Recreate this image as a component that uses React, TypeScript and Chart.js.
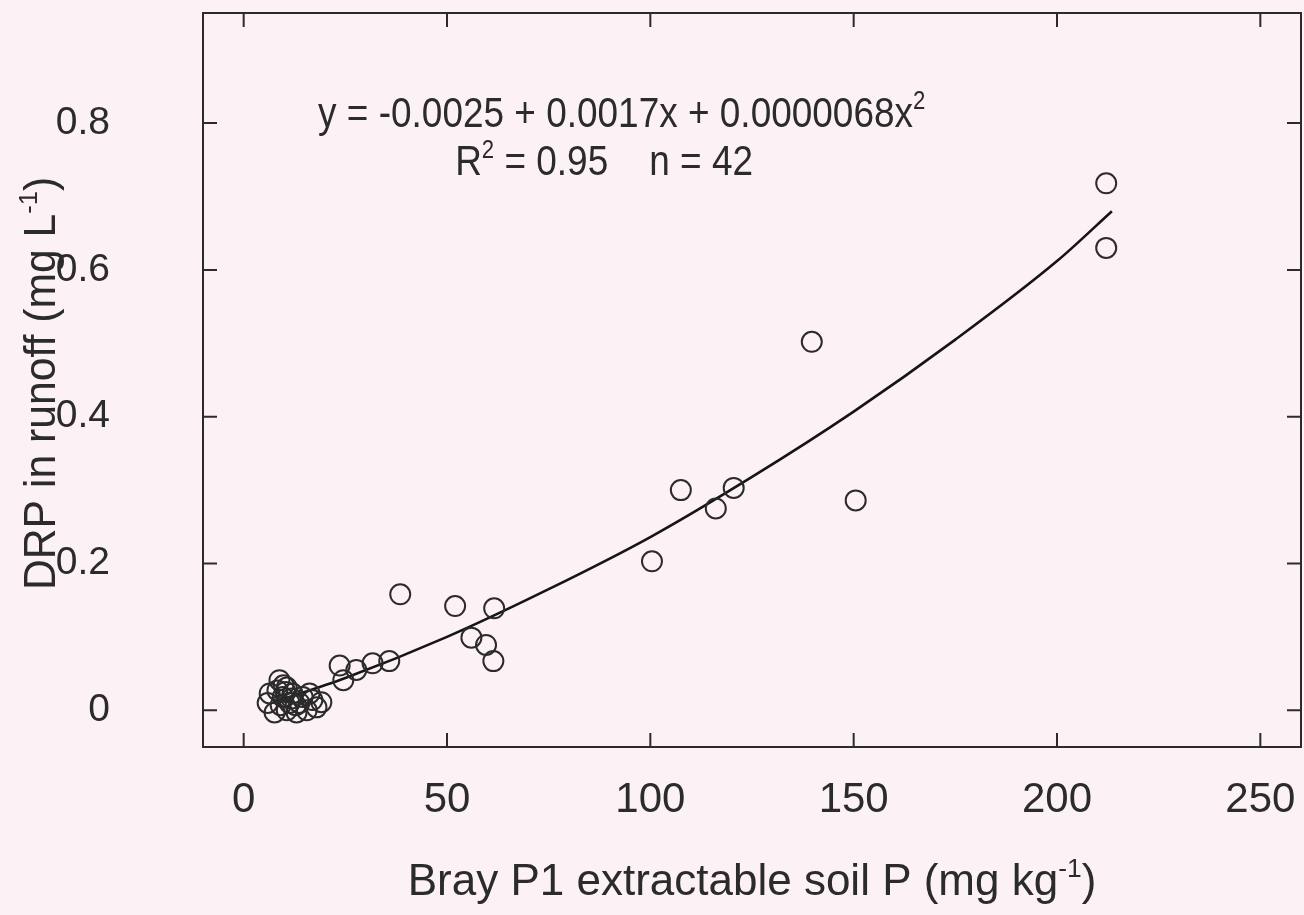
import React, { useEffect, useRef } from "react";
import { Chart, registerables } from "chart.js";

Chart.register(...registerables);

// Observed points: Bray P1 soil P (mg/kg) vs DRP in runoff (mg/L)
const soilP = [
  212.1, 212.1, 139.7, 150.5, 107.5, 120.5, 116.1, 100.4, 38.5, 52.0,
  61.6, 56.0, 59.6, 61.4, 35.8, 31.7, 27.7, 23.6, 24.5,
  8.8, 6.4, 5.9, 7.6, 10.6, 13.0, 15.5, 17.9, 19.1, 16.9,
  14.5, 12.0, 10.6, 9.6, 11.3, 13.7, 16.2, 9.8, 8.3, 11.8,
  12.8, 9.1, 10.3,
];
const drpRunoff = [
  0.718, 0.630, 0.502, 0.286, 0.300, 0.303, 0.275, 0.203, 0.158, 0.142,
  0.139, 0.099, 0.089, 0.067, 0.067, 0.064, 0.055, 0.061, 0.041,
  0.041, 0.023, 0.010, -0.003, 0.000, -0.003, 0.000, 0.004, 0.011, 0.014,
  0.018, 0.023, 0.031, 0.018, 0.010, 0.010, 0.023, 0.034, 0.027, 0.016,
  0.007, 0.007, 0.025,
];

// Fitted curve
const fitSoilP = [8, 25, 50, 75, 100, 125, 150, 175, 200, 213.5];
const fitDrp = [0.012, 0.044, 0.100, 0.165, 0.236, 0.318, 0.407, 0.505, 0.612, 0.680];

const xTickValues = [0, 50, 100, 150, 200, 250];
const yTickValues = [0, 0.2, 0.4, 0.6, 0.8];

const xTitleParts = [
  { t: "Bray P1 extractable soil P (mg kg" },
  { t: "-1", sup: true },
  { t: ")" },
];
const yTitleParts = [
  { t: "DRP in runoff (mg L" },
  { t: "-1", sup: true },
  { t: ")" },
];
const eqLine1 = [
  { t: "y = -0.0025 + 0.0017x + 0.0000068x" },
  { t: "2", sup: true },
];
const eqLine2 = [
  { t: "R" },
  { t: "2", sup: true },
  { t: " = 0.95    n = 42" },
];

const FONT = "'Liberation Sans', Arial, Helvetica, sans-serif";
const INK = "#2b2b2b";
const BG = "#fcf2f5";

type Part = { t: string; sup?: boolean };

function partsWidth(ctx: CanvasRenderingContext2D, parts: Part[], size: number) {
  let w = 0;
  for (const p of parts) {
    ctx.font = `${p.sup ? size * 0.6 : size}px ${FONT}`;
    w += ctx.measureText(p.t).width;
  }
  return w;
}

function drawParts(
  ctx: CanvasRenderingContext2D,
  parts: Part[],
  x: number,
  y: number,
  size: number,
  sx = 1
) {
  ctx.save();
  ctx.translate(x, y);
  ctx.scale(sx, 1);
  let cx = 0;
  ctx.textBaseline = "alphabetic";
  ctx.textAlign = "left";
  for (const p of parts) {
    const s = p.sup ? size * 0.6 : size;
    ctx.font = `${s}px ${FONT}`;
    ctx.fillText(p.t, cx, p.sup ? -size * 0.42 : 0);
    cx += ctx.measureText(p.t).width;
  }
  ctx.restore();
}

const decorPlugin = {
  id: "decor",
  beforeDraw(chart: any) {
    const { ctx, width, height } = chart;
    ctx.save();
    ctx.fillStyle = BG;
    ctx.fillRect(0, 0, width, height);
    ctx.restore();
  },
  afterDraw(chart: any) {
    const { ctx, chartArea } = chart;
    const xs = chart.scales.x;
    const ys = chart.scales.y;
    const { left, right, top, bottom } = chartArea;
    ctx.save();
    ctx.strokeStyle = INK;
    ctx.lineWidth = 2;
    ctx.strokeRect(left, top, right - left, bottom - top);
    const tl = 14;
    ctx.beginPath();
    for (const v of xTickValues) {
      const px = xs.getPixelForValue(v);
      ctx.moveTo(px, bottom);
      ctx.lineTo(px, bottom - tl);
      ctx.moveTo(px, top);
      ctx.lineTo(px, top + tl);
    }
    for (const v of yTickValues) {
      const py = ys.getPixelForValue(v);
      ctx.moveTo(left, py);
      ctx.lineTo(left + tl, py);
      ctx.moveTo(right, py);
      ctx.lineTo(right - tl, py);
    }
    ctx.stroke();

    ctx.fillStyle = INK;
    // x title
    const tSize = 44;
    const xw = partsWidth(ctx, xTitleParts, tSize);
    drawParts(ctx, xTitleParts, (left + right) / 2 - xw / 2, 895, tSize);
    // y title
    const yw = partsWidth(ctx, yTitleParts, tSize);
    ctx.save();
    ctx.translate(55, (top + bottom) / 2 - 3);
    ctx.rotate(-Math.PI / 2);
    drawParts(ctx, yTitleParts, -yw / 2, 0, tSize, 0.97);
    ctx.restore();

    // equation annotation
    const eSize = 42;
    const sx = 0.88;
    drawParts(ctx, eqLine1, xs.getPixelForValue(18.3), ys.getPixelForValue(0.795), eSize, sx);
    drawParts(ctx, eqLine2, xs.getPixelForValue(52.0), ys.getPixelForValue(0.729), eSize, sx);
    ctx.restore();
  },
};

export default function App() {
  const ref = useRef<HTMLCanvasElement | null>(null);
  useEffect(() => {
    if (!ref.current) return;
    const chart = new Chart(ref.current, {
      type: "scatter",
      data: {
        datasets: [
          {
            label: "observed",
            data: soilP.map((x, i) => ({ x, y: drpRunoff[i] })),
            pointRadius: 10,
            pointBorderWidth: 2,
            pointBorderColor: INK,
            pointBackgroundColor: "rgba(0,0,0,0)",
            showLine: false,
          },
          {
            label: "fit",
            type: "line",
            data: fitSoilP.map((x, i) => ({ x, y: fitDrp[i] })),
            borderColor: "#151515",
            borderWidth: 2.6,
            pointRadius: 0,
            fill: false,
            cubicInterpolationMode: "monotone",
          } as any,
        ],
      },
      options: {
        responsive: false,
        animation: false,
        devicePixelRatio: 1,
        layout: { autoPadding: false, padding: { top: 13, right: 3, left: 0, bottom: 0 } },
        plugins: {
          legend: { display: false },
          tooltip: { enabled: false },
        },
        scales: {
          x: {
            type: "linear",
            min: -10,
            max: 260,
            grid: { display: false, drawTicks: false },
            border: { display: false },
            afterBuildTicks: (s: any) => {
              s.ticks = xTickValues.map((v) => ({ value: v }));
            },
            afterFit: (s: any) => {
              s.height = 168;
              s.paddingLeft = 0;
              s.paddingRight = 0;
            },
            ticks: {
              padding: 28,
              color: INK,
              font: { family: FONT, size: 42 },
              callback: (v: any) => String(v),
            },
          },
          y: {
            type: "linear",
            min: -0.05,
            max: 0.95,
            grid: { display: false, drawTicks: false },
            border: { display: false },
            afterBuildTicks: (s: any) => {
              s.ticks = yTickValues.map((v) => ({ value: v }));
            },
            afterFit: (s: any) => {
              s.width = 203;
              s.paddingTop = 0;
              s.paddingBottom = 0;
            },
            ticks: {
              padding: 93,
              color: INK,
              font: { family: FONT, size: 39 },
              callback: (v: any) => (v === 0 ? "0" : Number(v).toFixed(1)),
            },
          },
        },
      },
      plugins: [decorPlugin],
    });
    return () => chart.destroy();
  }, []);
  return (
    <div style={{ position: "absolute", left: 0, top: 0, width: 1304, height: 915, background: BG }}>
      <canvas ref={ref} width={1304} height={915} style={{ display: "block" }} />
    </div>
  );
}
